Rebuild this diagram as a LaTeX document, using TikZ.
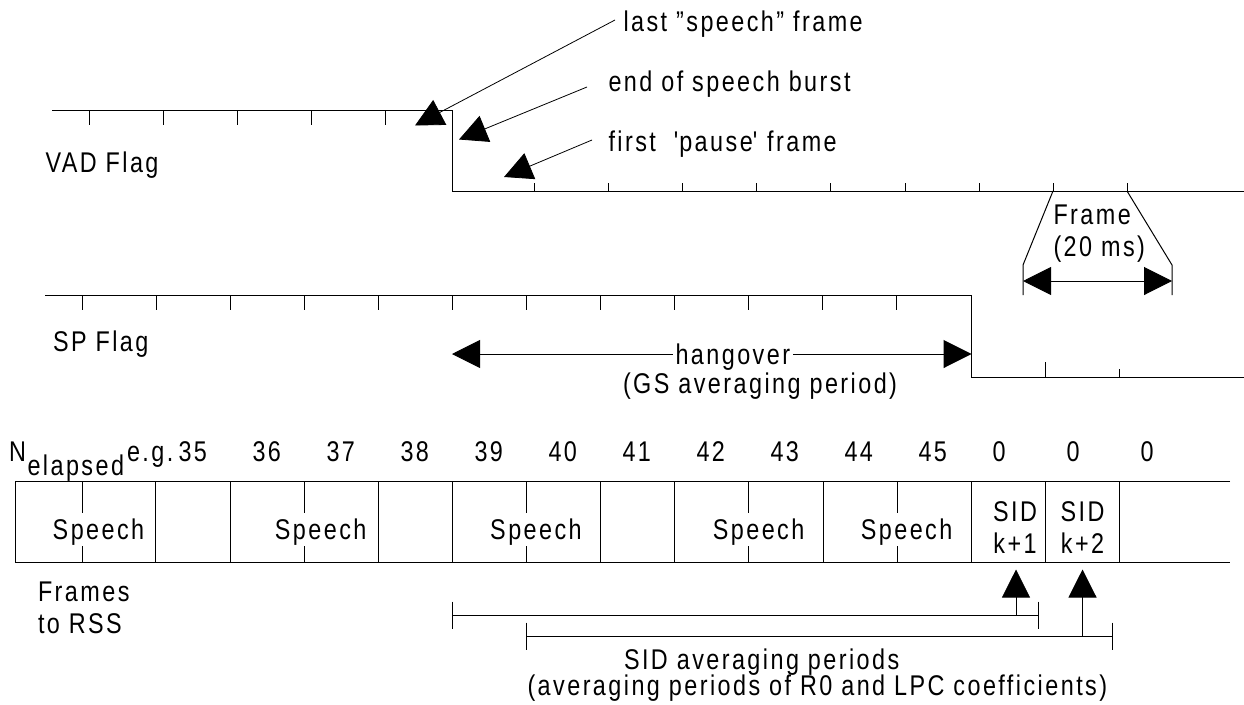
\documentclass[tikz,border=0pt]{standalone}
\usepackage{fontspec}
\setmainfont{Liberation Sans}[FakeStretch=0.82,LetterSpace=8.6,Ligatures=NoCommon]
\usetikzlibrary{arrows.meta}

\begin{document}
\begin{tikzpicture}[x=1pt, y=-1pt, line width=1pt,
	every node/.style = {inner sep=0pt, font=\fontsize{28.5}{33}\selectfont},
	txt/.style = {anchor=base west},
	mid/.style = {anchor=base},
	big/.style = {-{Triangle[length=28pt,width=28pt]}},
	bigboth/.style = {{Triangle[length=28pt,width=28pt]}-{Triangle[length=28pt,width=28pt]}},
	lead/.style = {line width=0.8pt}]
		\useasboundingbox (0,0) rectangle (1244,704);
		% VAD flag
		\draw (52,110) -- (452,110) -- (452,191) -- (1244,191);
		\foreach \x in {89,163,...,385} \draw (\x,110) -- ++(0,15);
		\foreach \x in {534,608,682,756,830,905,979,1053,1127} \draw (\x,191) -- ++(0,-8);
		\node[txt] (vad) at (45,172) {VAD Flag};
		\node[txt] (last) at (623,31) {last "speech" frame};
		\node[txt] (burst) at (608,91) {end of speech burst};
		\node[txt] (pause) at (608,151) {first~~\textquotesingle pause\textquotesingle{} frame};
		\coordinate (a1) at (615,20);
		\coordinate (t1) at (415,125.5);
		\coordinate (a2) at (587,87);
		\coordinate (t2) at (459,139.5);
		\coordinate (a3) at (592,140);
		\coordinate (t3) at (504,177);
		\draw[big, lead] (a1) -- (t1);
		\draw[big, lead] (a2) -- (t2);
		\draw[big, lead] (a3) -- (t3);
		% frame length
		\draw (1053,191) -- (1023,265) -- (1023,295);
		\draw (1127,191) -- (1172,265) -- (1172,295);
		\coordinate (fl) at (1023,281);
		\coordinate (fr) at (1172,281);
		\draw[bigboth] (fl) -- (fr);
		\node[txt] (frame) at (1053,224) {Frame};
		\node[txt] (ms) at (1053,256) {(20 ms)};
		% SP flag
		\draw (45,295) -- (971.5,295) -- (971.5,377) -- (1244,377);
		\foreach \x in {82,156,...,896} \draw (\x,295) -- ++(0,15);
		\draw (1045.5,377) -- ++(0,-15);
		\draw (1119.5,377) -- ++(0,-8);
		\node[txt] (sp) at (52.5,351) {SP Flag};
		\coordinate (hl) at (452,354);
		\coordinate (hr) at (971.5,354);
		\draw[bigboth] (hl) -- (hr);
		\node[txt, fill=white, inner xsep=3pt] (hang) at (672,364) {hangover};
		\node[txt] (gs) at (622.5,393) {(GS averaging period)};
		% N elapsed
		\node[txt] (n) at (8.7,461) {N};
		\node[txt] (el) at (27,475) {elapsed};
		\node[txt] (eg) at (126.5,461) {e.g.};
		\foreach \n [count=\i from 0] in {35,36,37,38,39,40,41,42,43,44,45,0,0,0}
			\node[txt] (num\i) at (178+74*\i,461) {\n};
		% frames to RSS
		\draw (1230,481) -- (15,481) -- (15,562.5) -- (1230,562.5);
		\foreach \x in {155.5,230,378,452.5,600.5,674.5,823,971.5,1045.5,1119.5}
			\draw (\x,481) -- (\x,562.5);
		\foreach \x in {82,304,526.5,748.5,897} {
			\draw (\x,481) -- ++(0,32);
			\draw (\x,562.5) -- ++(0,-16.5);
		}
		\foreach \x [count=\i] in {98.5,320.7,536,758.6,906.6}
			\node[mid] (speech\i) at (\x,539) {Speech};
		\node[mid] (sid1) at (1015,521) {SID};
		\node[mid] (k1) at (1015,553) {k+1};
		\node[mid] (sid2) at (1082.5,521) {SID};
		\node[mid] (k2) at (1082.5,553) {k+2};
		\node[txt] (frames) at (37.5,601.5) {Frames};
		\node[txt] (rss) at (37.5,633.5) {to RSS};
		% SID averaging periods
		\draw (452.5,615) -- (1038.5,615);
		\draw (452.5,601.5) -- (452.5,628.5);
		\draw (1038.5,601.5) -- (1038.5,629);
		\draw (526.5,636.5) -- (1112,636.5);
		\draw (526.5,622.5) -- (526.5,650);
		\draw (1112,622.5) -- (1112,650);
		\coordinate (s1) at (1016,615);
		\coordinate (u1) at (1016,569.5);
		\coordinate (s2) at (1082.5,636.5);
		\coordinate (u2) at (1082.5,569.5);
		\draw[big, lead] (s1) -- (u1);
		\draw[big] (s2) -- (u2);
		\node[txt] (sidavg) at (623.5,669) {SID averaging periods};
		\node[txt] (coef) at (527,695) {(averaging periods of R0 and LPC coefficients)};
	\end{tikzpicture}
\end{document}
